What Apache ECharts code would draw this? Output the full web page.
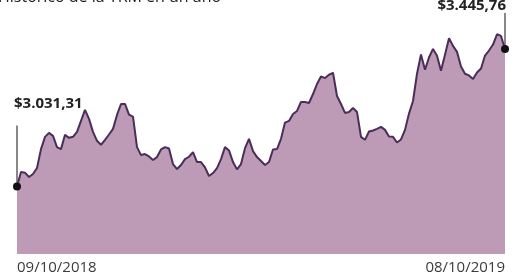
<!DOCTYPE html>
<html>
<head>
<meta charset="utf-8">
<script src="https://cdn.jsdelivr.net/npm/echarts@6/dist/echarts.min.js"></script>
<style>
  html, body { margin: 0; padding: 0; background: #fff; }
  #chart { width: 519px; height: 278px; }
</style>
</head>
<body>
<div id="chart"></div>
<script>
// TRM diaria (aprox.) entre 09/10/2018 y 08/10/2019
const title = 'Histórico de la TRM en un año';
const tickLabels = ['09/10/2018', '08/10/2019'];
const firstLabel = '$3.031,31';
const lastLabel = '$3.445,76';
const trm = [
  3031.31, 3075, 3073, 3060, 3069, 3087, 3144, 3181, 3193, 3184,
  3150, 3144, 3187, 3178, 3181, 3196, 3229, 3262, 3235, 3196,
  3169, 3157, 3172, 3188, 3205, 3247, 3280, 3280, 3248, 3242,
  3150, 3126, 3129, 3122, 3111, 3120, 3143, 3150, 3146, 3099,
  3084, 3096, 3114, 3121, 3135, 3105, 3105, 3089, 3063, 3072,
  3087, 3114, 3150, 3140, 3105, 3083, 3099, 3147, 3175, 3138,
  3120, 3108, 3096, 3105, 3143, 3144, 3175, 3224, 3229, 3250,
  3259, 3286, 3286, 3283, 3310, 3340, 3363, 3358, 3368, 3374,
  3304, 3280, 3253, 3256, 3268, 3256, 3181, 3172, 3197, 3200,
  3205, 3211, 3202, 3182, 3181, 3164, 3173, 3202, 3251, 3289,
  3371, 3429, 3383, 3420, 3446, 3425, 3380, 3428, 3478, 3455,
  3437, 3393, 3371, 3366, 3355, 3375, 3387, 3426, 3441, 3459,
  3490, 3485, 3445.76
];
const days = trm.map((v, i) => i);
const last = trm.length - 1;

const chart = echarts.init(document.getElementById('chart'));
const font = '"Open Sans", "Noto Sans", sans-serif';

chart.setOption({
  animation: false,
  grid: { left: 17, right: 14, top: 20, bottom: 24 },
  xAxis: {
    type: 'category',
    data: days,
    boundaryGap: false,
    axisLine: { show: false },
    axisTick: { show: false },
    axisLabel: {
      interval: (i) => i === 0 || i === last,
      formatter: (v, i) => (i === 0 ? tickLabels[0] : tickLabels[1]),
      alignMinLabel: 'left',
      alignMaxLabel: 'right',
      margin: 6,
      fontFamily: font,
      fontSize: 15,
      color: '#3b3b3b'
    }
  },
  yAxis: {
    type: 'value',
    min: 2828,
    max: 3533,
    show: false,
    splitLine: { show: false }
  },
  series: [{
    type: 'line',
    data: trm.map((v, i) => (i === 0 || i === last)
      ? { value: v, symbol: 'circle', symbolSize: 8, itemStyle: { color: '#111' } }
      : v),
    showSymbol: true,
    symbol: 'none',
    lineStyle: { color: '#4a2e58', width: 2 },
    areaStyle: { color: '#bd9bb7', opacity: 1 }
  }]
});

const p0 = chart.convertToPixel({ xAxisIndex: 0, yAxisIndex: 0 }, [0, trm[0]]);
const p1 = chart.convertToPixel({ xAxisIndex: 0, yAxisIndex: 0 }, [last, trm[last]]);

chart.setOption({
  graphic: [
    {
      type: 'text', left: -2, top: -11,
      style: { text: title, font: '16px ' + font, fill: '#222' }
    },
    {
      type: 'line', silent: true,
      shape: { x1: p0[0], y1: p0[1] - 61, x2: p0[0], y2: p0[1] },
      style: { stroke: '#111', lineWidth: 1 }
    },
    {
      type: 'text', x: p0[0] - 3, y: 111,
      style: { text: firstLabel, font: 'bold 15px ' + font, fill: '#222', align: 'left', verticalAlign: 'bottom' }
    },
    {
      type: 'line', silent: true,
      shape: { x1: p1[0], y1: p1[1] - 36, x2: p1[0], y2: p1[1] },
      style: { stroke: '#111', lineWidth: 1 }
    },
    {
      type: 'text', x: p1[0] + 1, y: 13,
      style: { text: lastLabel, font: 'bold 15px ' + font, fill: '#222', align: 'right', verticalAlign: 'bottom' }
    }
  ]
});
</script>
</body>
</html>
